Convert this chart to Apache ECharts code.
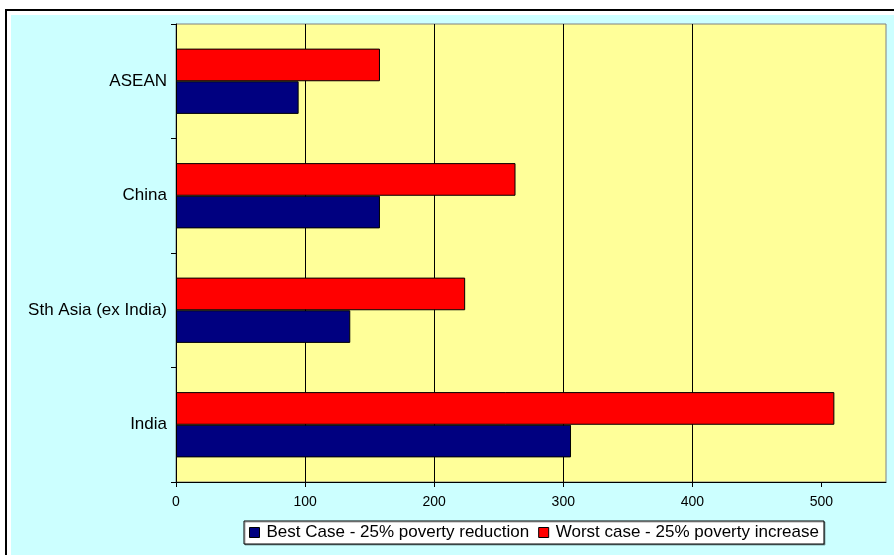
<!DOCTYPE html>
<html>
<head>
<meta charset="utf-8">
<script src="https://cdn.jsdelivr.net/npm/echarts@6/dist/echarts.min.js"></script>
<style>
html,body{margin:0;padding:0;background:#ffffff;}
#chart{width:894px;height:555px;}
</style>
</head>
<body>
<div id="chart"></div>
<script>
var categories = ['India', 'Sth Asia (ex India)', 'China', 'ASEAN'];
var bestCase = [306, 135, 158, 95];
var worstCase = [510, 224, 263, 158];
var seriesNames = ['Best Case - 25% poverty reduction', 'Worst case - 25% poverty increase'];
var xTicks = [0, 100, 200, 300, 400, 500];

var FONT = '"Liberation Sans", Arial, sans-serif';
var chart = echarts.init(document.getElementById('chart'), null, {renderer: 'canvas'});
chart.setOption({
  backgroundColor: '#ffffff',
  animation: false,
  graphic: [
    {type: 'rect', z: -10, silent: true, shape: {x: 6, y: 10, width: 1000, height: 1000},
     style: {fill: '#ffffff', stroke: '#000000', lineWidth: 2}},
    {type: 'rect', z: -9, silent: true, shape: {x: 11, y: 15, width: 883, height: 540},
     style: {fill: '#CCFFFF'}}
  ],
  grid: {
    left: 176, right: 8, top: 24, bottom: 73,
    show: true, backgroundColor: '#FFFF99', borderColor: '#808080', borderWidth: 1
  },
  legend: {
    left: 244, top: 521,
    data: [
      {name: seriesNames[0], itemStyle: {color: '#000080', borderColor: '#000000', borderWidth: 1}},
      {name: seriesNames[1], itemStyle: {color: '#FF0000', borderColor: '#000000', borderWidth: 1}}
    ],
    icon: 'rect', itemWidth: 10, itemHeight: 10, itemGap: 9,
    backgroundColor: '#ffffff', borderColor: '#000000', borderWidth: 1,
    padding: [3, 5, 3, 5],
    textStyle: {fontFamily: FONT, fontSize: 17, color: '#000000', padding: [0, 0, 0, 2]},
    shadowColor: 'rgba(0,0,0,0.35)', shadowOffsetX: 1, shadowOffsetY: 1
  },
  xAxis: {
    type: 'value', min: 0, max: 550, interval: 100,
    axisLine: {show: true, lineStyle: {color: '#000000', width: 1}},
    axisTick: {show: true, length: 5, lineStyle: {color: '#000000'}, customValues: xTicks},
    axisLabel: {fontFamily: FONT, fontSize: 14, color: '#000000', margin: 13, customValues: xTicks},
    splitLine: {show: true, showMinLine: false, showMaxLine: false, lineStyle: {color: '#000000', width: 1}}
  },
  yAxis: {
    type: 'category', data: categories,
    axisLine: {show: true, lineStyle: {color: '#000000', width: 1}},
    axisTick: {show: true, length: 5, lineStyle: {color: '#000000'}},
    axisLabel: {fontFamily: FONT, fontSize: 17, color: '#000000', margin: 9},
    splitLine: {show: false}
  },
  series: [
    {name: seriesNames[1], type: 'bar', data: worstCase, barGap: '0%', barCategoryGap: '43%',
     itemStyle: {color: '#FF0000', borderColor: '#000000', borderWidth: 1}},
    {name: seriesNames[0], type: 'bar', data: bestCase, barGap: '0%', barCategoryGap: '43%',
     itemStyle: {color: '#000080', borderColor: '#000000', borderWidth: 1}}
  ]
});
</script>
</body>
</html>
